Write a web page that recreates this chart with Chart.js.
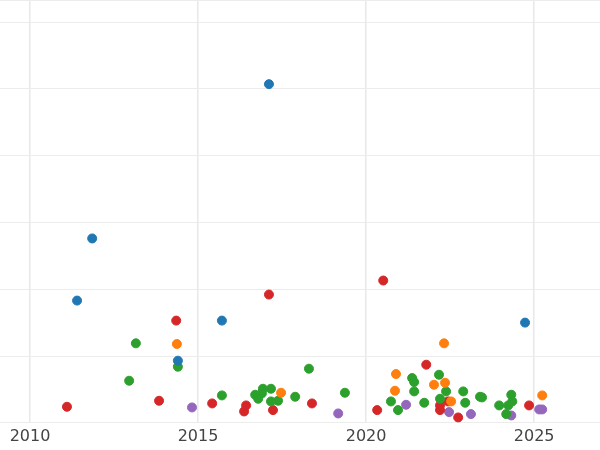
<!DOCTYPE html>
<html>
<head>
<meta charset="utf-8">
<script src="https://cdn.jsdelivr.net/npm/chart.js@4"></script>
<style>
  body { margin: 0; background: #fff; }
  #wrap { width: 600px; height: 450px; }
</style>
</head>
<body>
<div id="wrap"><canvas id="chart"></canvas></div>
<script>
// Точки по группам: [год, значение]
const blueX = [2017.11, 2011.85, 2011.40, 2015.71, 2014.40, 2024.73];
const blueY = [5.07, 2.76, 1.83, 1.53, 0.93, 1.50];
const orangeX = [2014.37, 2017.47, 2020.89, 2020.86, 2022.32, 2022.02, 2022.35, 2022.53, 2025.24];
const orangeY = [1.18, 0.45, 0.73, 0.48, 1.19, 0.57, 0.60, 0.32, 0.41];
const redX = [2011.10, 2013.84, 2014.35, 2015.42, 2016.43, 2016.37, 2017.23, 2017.11, 2018.39, 2020.51, 2020.33, 2021.79, 2022.20, 2022.20, 2022.44, 2022.74, 2024.85];
const redY = [0.24, 0.33, 1.53, 0.29, 0.26, 0.17, 0.19, 1.92, 0.29, 2.13, 0.19, 0.87, 0.26, 0.19, 0.32, 0.08, 0.26];
const greenX = [2012.95, 2013.15, 2014.40, 2015.71, 2016.70, 2016.79, 2016.90, 2016.93, 2017.17, 2017.17, 2017.38, 2017.89, 2018.30, 2019.37, 2020.74, 2020.95, 2021.37, 2021.43, 2021.43, 2021.73, 2022.17, 2022.38, 2022.20, 2022.89, 2022.95, 2023.39, 2023.45, 2023.96, 2024.17, 2024.23, 2024.32, 2024.35];
const greenY = [0.63, 1.19, 0.84, 0.41, 0.42, 0.36, 0.44, 0.51, 0.51, 0.32, 0.33, 0.39, 0.81, 0.45, 0.32, 0.19, 0.67, 0.61, 0.47, 0.30, 0.72, 0.47, 0.36, 0.47, 0.30, 0.39, 0.38, 0.26, 0.13, 0.26, 0.42, 0.32];
const purpleX = [2014.82, 2019.17, 2021.19, 2022.47, 2023.12, 2024.32, 2025.15, 2025.24];
const purpleY = [0.23, 0.14, 0.27, 0.16, 0.13, 0.11, 0.20, 0.20];
const xTicks = [2010, 2015, 2020, 2025];

function pts(xs, ys) {
    return xs.map((x, i) => ({ x: x, y: ys[i] }));
}
function ds(xs, ys, color) {
    return { data: pts(xs, ys), backgroundColor: color, borderColor: color, pointRadius: 4.5, pointHoverRadius: 4.5 };
}

new Chart(document.getElementById('chart'), {
    type: 'scatter',
    data: {
        datasets: [
            ds(blueX, blueY, '#1f77b4'),
            ds(orangeX, orangeY, '#ff7f0e'),
            ds(greenX, greenY, '#2ca02c'),
            ds(redX, redY, '#d62728'),
            ds(purpleX, purpleY, '#9467bd')
        ]
    },
    options: {
        responsive: true,
        maintainAspectRatio: false,
        animation: false,
        layout: { padding: 0, autoPadding: false },
        plugins: { legend: { display: false }, tooltip: { enabled: false } },
        scales: {
            x: {
                type: 'linear',
                min: 2009.107,
                max: 2026.96,
                afterBuildTicks: function(axis) {
                    axis.ticks = xTicks.map(v => ({ value: v }));
                },
                grid: { color: '#e8e8e8', lineWidth: 1.5, drawTicks: false },
                border: { display: false },
                ticks: {
                    color: '#444', font: { family: 'DejaVu Sans', size: 16 }, padding: 4,
                    callback: function(v) { return String(v); }
                }
            },
            y: {
                min: 0,
                max: 6.33,
                ticks: { display: false, stepSize: 1 },
                grid: { color: '#ececec', lineWidth: 1, drawTicks: false },
                border: { display: false },
                afterFit: function(axis) { axis.width = 0; }
            }
        }
    }
});
</script>
</body>
</html>
